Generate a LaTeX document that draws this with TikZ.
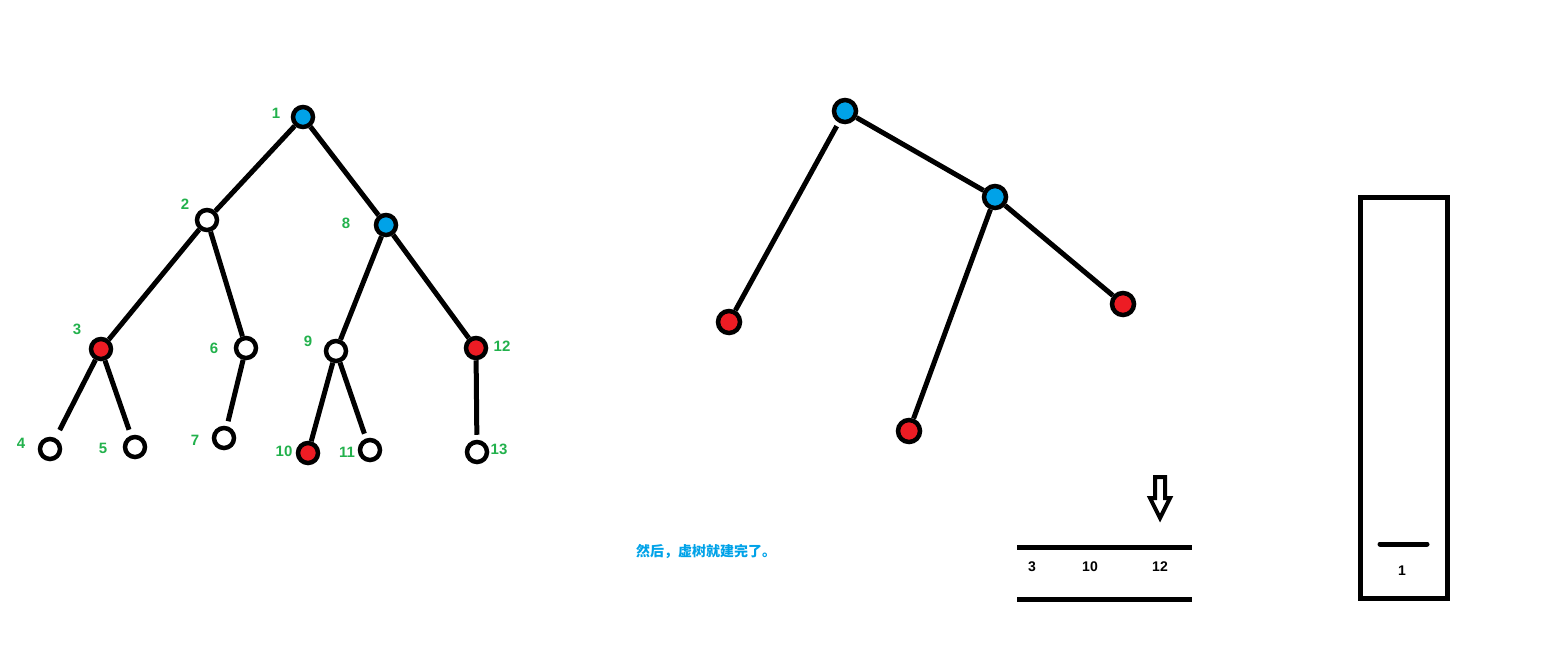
\documentclass[tikz,border=0pt]{standalone}
\usepackage{fontspec}
\setmainfont{Liberation Sans}
\newfontfamily\cjk{Noto Sans CJK SC}
\usepackage{xcolor}
\usetikzlibrary{positioning}

\definecolor{vblue}{HTML}{00A2E8}
\definecolor{vred}{HTML}{ED1C24}
\definecolor{vgreen}{HTML}{22B14C}

\begin{document}
\begin{tikzpicture}[x=1pt,y=-1pt]
            \tikzstyle{vertex} = [draw, circle, line width=4.5pt, minimum size=20pt, inner sep=0pt, fill=white]
            \tikzstyle{key} = [vertex, fill=vblue]
            \tikzstyle{hit} = [vertex, fill=vred]
            \tikzstyle{big} = [minimum size=22pt]
            \tikzstyle{num} = [text=vgreen, font=\bfseries\fontsize{15}{15}\selectfont, inner sep=0pt]
            \tikzstyle{val} = [font=\bfseries\fontsize{14}{14}\selectfont, inner sep=0pt]
            \tikzstyle{edge} = [line width=5pt]
            \useasboundingbox (0,0) rectangle (1541,648);

            % original tree
            \node [key] (n1) at (303,117) {};
            \node [vertex] (n2) at (207,220) {};
            \node [key] (n8) at (386,225) {};
            \node [hit] (n3) at (101,349) {};
            \node [vertex] (n6) at (246,348) {};
            \node [vertex] (n9) at (336,351) {};
            \node [hit] (n12) at (476,348) {};
            \node [vertex] (n4) at (50,449) {};
            \node [vertex] (n5) at (135,447) {};
            \node [vertex] (n7) at (224,438) {};
            \node [hit] (n10) at (308,453) {};
            \node [vertex] (n11) at (370,450) {};
            \node [vertex] (n13) at (477,452) {};
            \draw [edge] (n1) -- (n2);
            \draw [edge] (n1) -- (n8);
            \draw [edge] (n2) -- (n3);
            \draw [edge] (n2) -- (n6);
            \draw [edge] (n8) -- (n9);
            \draw [edge] (n8) -- (n12);
            \draw [edge, shorten >=9pt] (n3) -- (n4);
            \draw [edge, shorten >=6pt] (n3) -- (n5);
            \draw [edge, shorten >=5pt] (n6) -- (n7);
            \draw [edge] (n9) -- (n10);
            \draw [edge, shorten >=5pt] (n9) -- (n11);
            \draw [edge, shorten >=5pt] (n12) -- (n13);
            \node [num] (l1) at (276,113) {1};
            \node [num] (l2) at (185,204) {2};
            \node [num] (l8) at (346,223) {8};
            \node [num] (l3) at (77,329) {3};
            \node [num] (l6) at (214,348) {6};
            \node [num] (l9) at (308,341) {9};
            \node [num] (l12) at (502,346) {12};
            \node [num] (l4) at (21,443) {4};
            \node [num] (l5) at (103,448) {5};
            \node [num] (l7) at (195,440) {7};
            \node [num] (l10) at (284,451) {10};
            \node [num] (l11) at (347,452) {11};
            \node [num] (l13) at (499,449) {13};

            % virtual tree
            \node [key, big] (v1) at (845,111) {};
            \node [key, big] (v8) at (995,197) {};
            \node [hit, big] (v3) at (729,322) {};
            \node [hit, big] (v10) at (909,431) {};
            \node [hit, big] (v12) at (1123,304) {};
            \draw [edge, shorten <=4pt] (v1) -- (v3);
            \draw [edge] (v1) -- (v8);
            \draw [edge] (v8) -- (v10);
            \draw [edge] (v8) -- (v12);

            \node [text=vblue, font=\cjk\bfseries\fontsize{14}{14}\selectfont, inner sep=0pt] (done) at (706,552) {然后，虚树就建完了。};

            % list of key points
            \coordinate (la) at (1017,547);
            \coordinate (lb) at (1192,547);
            \coordinate (lc) at (1017,599);
            \coordinate (ld) at (1192,599);
            \draw [edge] (la) -- (lb);
            \draw [edge] (lc) -- (ld);
            \node [val] (k3) at (1032,567) {3};
            \node [val] (k10) at (1090,567) {10};
            \node [val] (k12) at (1160,567) {12};
            \draw [line width=4pt, line join=miter] (1155,477) -- (1165,477) -- (1165,498) -- (1170,498)
                -- (1160,518) -- (1150,498) -- (1155,498) -- cycle;

            % stack
            \node [draw, line width=5pt, minimum width=87pt, minimum height=401pt, inner sep=0pt] (stack) at (1403.5,397.5) {};
            \draw [edge, line cap=round] (1380,544) -- (1427,544);
            \node [val] (s1) at (1402,571) {1};
\end{tikzpicture}
\end{document}
